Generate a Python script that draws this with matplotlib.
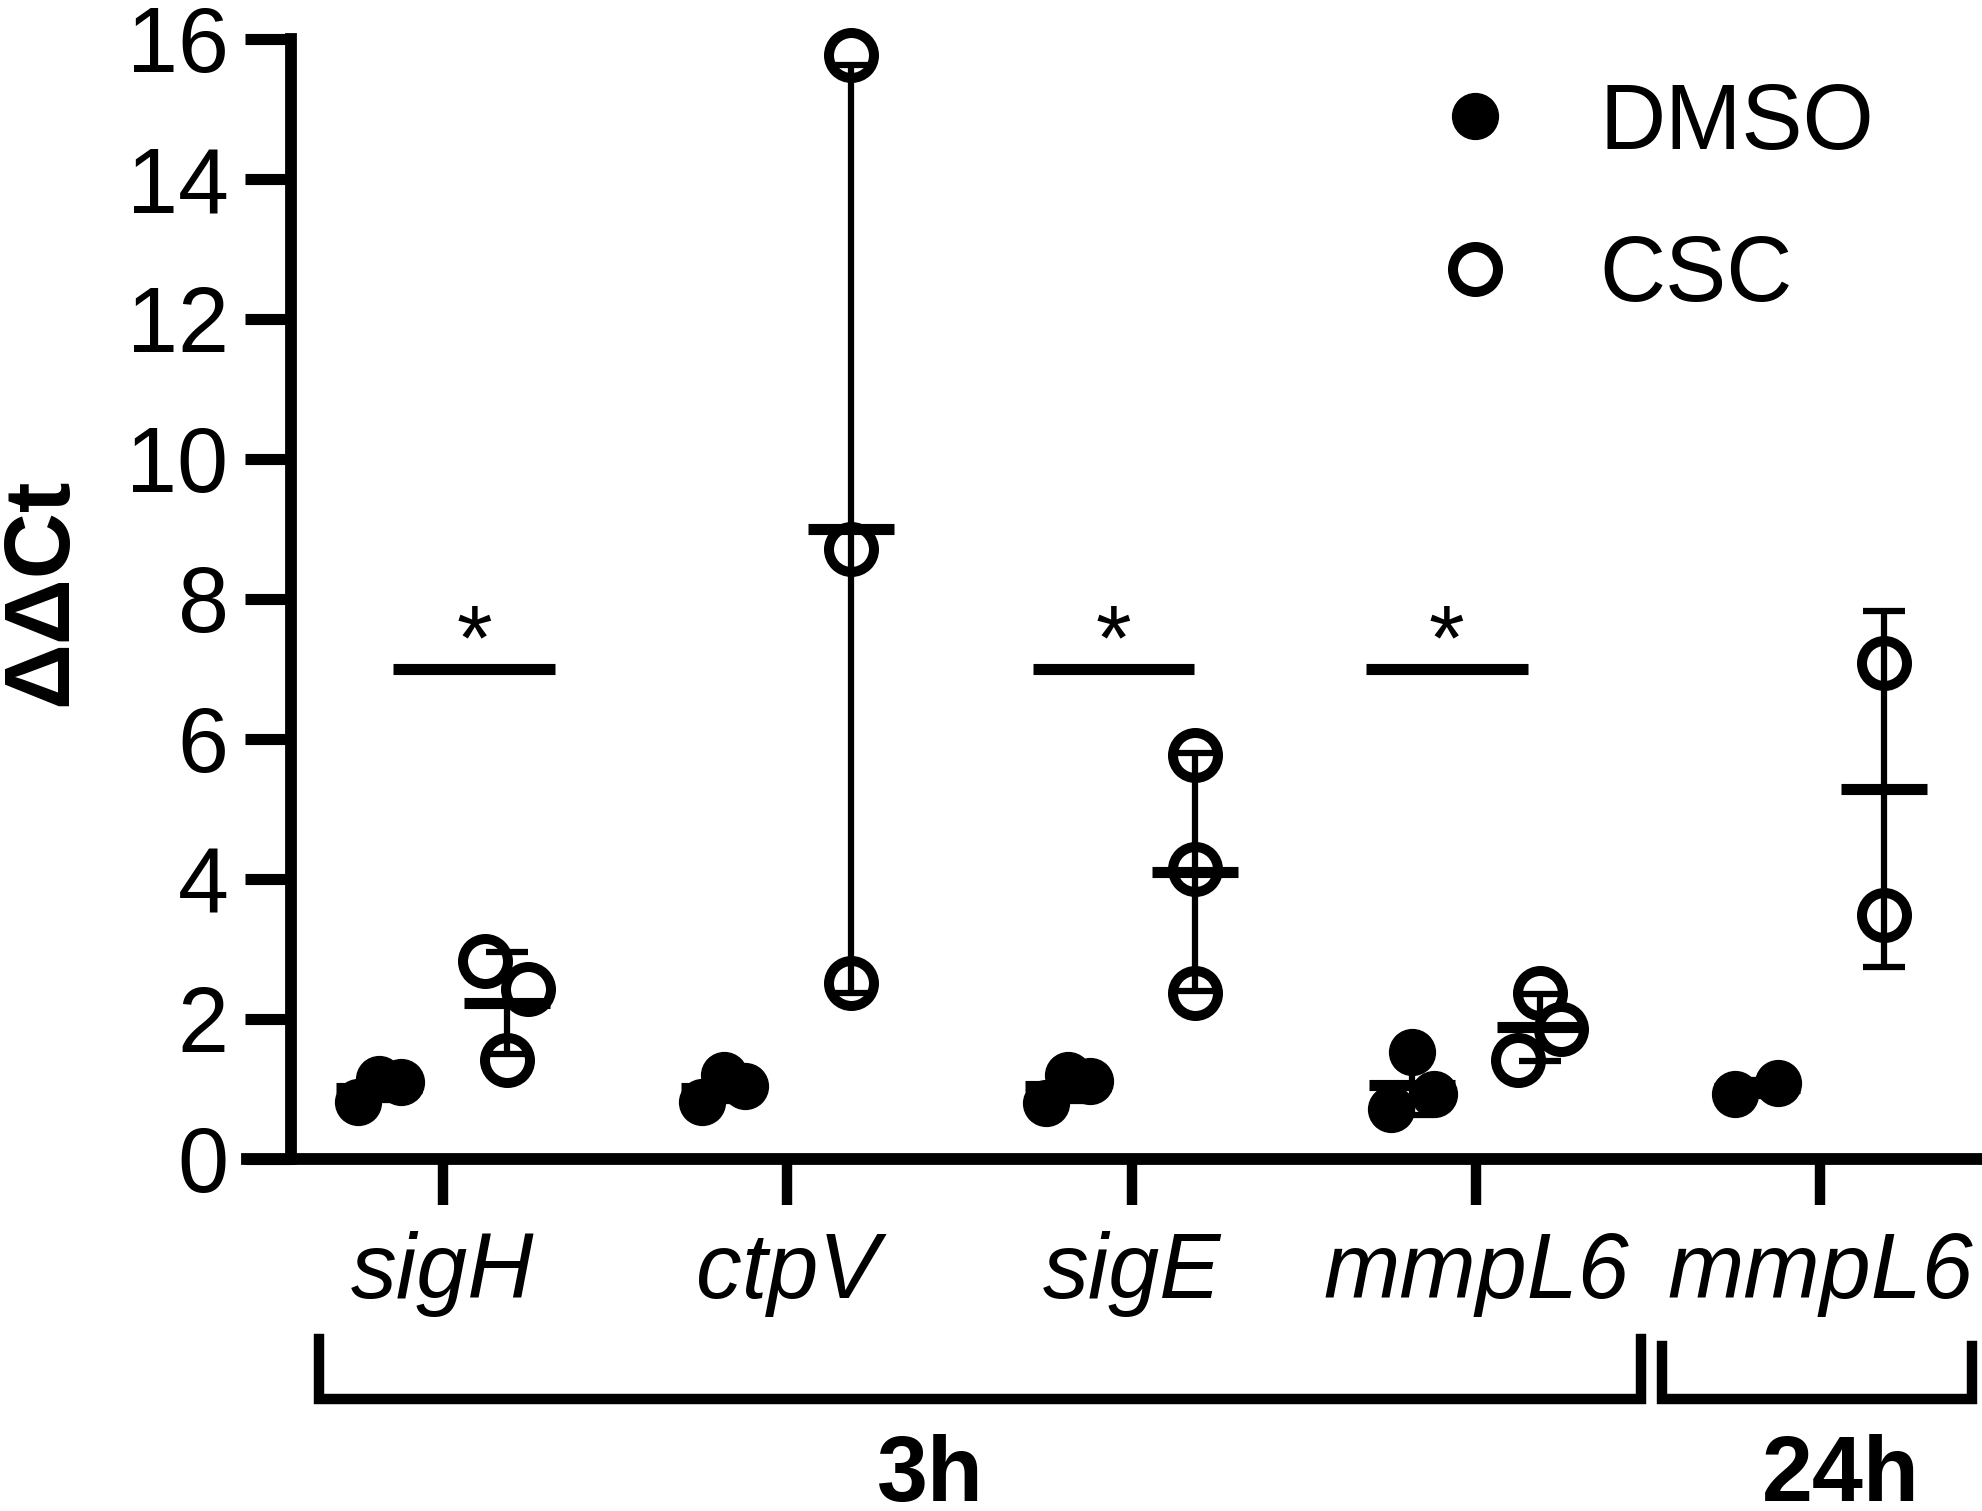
import numpy as np
import matplotlib
matplotlib.use('Agg')
import matplotlib.pyplot as plt
from matplotlib.lines import Line2D

plt.rcParams['font.family'] = ['Liberation Sans', 'DejaVu Sans']

# Datos (ddCt por replica)
genes = ['sigH', 'ctpV', 'sigE', 'mmpL6', 'mmpL6']

dmso_sigH = [0.82, 1.14, 1.10]
dmso_ctpV = [0.82, 1.20, 1.04]
dmso_sigE = [0.80, 1.20, 1.12]
dmso_mmpL6_3h = [1.53, 0.71, 0.93]
dmso_mmpL6_24h = [0.93, 1.09]

csc_sigH = [2.83, 2.43, 1.42]
csc_ctpV = [15.77, 8.72, 2.51]
csc_sigE = [5.77, 4.14, 2.37]
csc_mmpL6_3h = [2.37, 1.42, 1.85]
csc_mmpL6_24h = [7.08, 3.49]

dmso = [dmso_sigH, dmso_ctpV, dmso_sigE, dmso_mmpL6_3h, dmso_mmpL6_24h]
csc = [csc_sigH, csc_ctpV, csc_sigE, csc_mmpL6_3h, csc_mmpL6_24h]

# comparaciones significativas: (indice del gen, desplazamiento de la barra)
sig_bars = [(0, 0.09), (2, -0.053), (3, -0.085)]
sig_y = 7.0

# tiempos: etiqueta, extremos del corchete, centro del texto, altura del corchete
tiempos = [('3h', (-0.36, 3.48), 1.415, -0.1607),
           ('24h', (3.54, 4.44), 4.06, -0.167)]

FS = 66
LW = 8


def swarm(vals, center, spread=0.125, bin_h=0.5):
    # reparte horizontalmente los puntos que quedan muy juntos en vertical
    vals = np.asarray(vals, dtype=float)
    xs = np.full(len(vals), center, dtype=float)
    bins = []
    for i in np.argsort(vals):
        if bins and vals[i] - vals[bins[-1][0]] < bin_h:
            bins[-1].append(i)
        else:
            bins.append([i])
    for b in bins:
        if len(b) > 1:
            b = sorted(b)
            xs[b] = center + np.linspace(-spread / 2, spread / 2, len(b))
    return xs


fig = plt.figure(figsize=(19.83, 15.11), dpi=100)
ax = fig.add_axes([0.12456, 0.23296, 0.8739, 0.74123])

off = 0.185
for i in range(len(genes)):
    xd = swarm(dmso[i], i - off)
    ax.plot(xd, dmso[i], 'o', ms=33, mfc='black', mec='black', mew=1,
            zorder=3, clip_on=False)
    xc = swarm(csc[i], i + off)
    ax.plot(xc, csc[i], 'o', ms=32.4, mfc='white', mec='black', mew=7.2,
            zorder=3, clip_on=False)
    for vals, c in ((dmso[i], i - off), (csc[i], i + off)):
        m = np.mean(vals)
        s = np.std(vals, ddof=1)
        ax.errorbar(c, m, yerr=s, fmt='none', ecolor='black', elinewidth=4.5,
                    capsize=15, capthick=4.5, zorder=4, clip_on=False)
        ax.hlines(m, c - 0.125, c + 0.125, color='black', lw=LW, zorder=4)

# barras de significancia
for gi, dx in sig_bars:
    c = gi + dx
    ax.hlines(sig_y, c - 0.235, c + 0.235, color='black', lw=LW)
    ax.text(c, sig_y, '*', ha='center', va='baseline', fontsize=FS)

# ejes
ax.set_xlim(-0.569, 4.463)
ax.set_ylim(0, 16)
for s in ('top', 'right'):
    ax.spines[s].set_visible(False)
ax.spines['left'].set_position(('data', -0.441))
ax.spines['left'].set_linewidth(8.5)
ax.spines['bottom'].set_linewidth(8.5)

ax.set_yticks(np.arange(0, 17, 2))
ax.tick_params(axis='y', direction='out', length=33, width=LW, pad=12,
               labelsize=FS)
ax.set_xticks(range(len(genes)))
ax.set_xticklabels(genes, fontstyle='italic')
ax.tick_params(axis='x', direction='out', length=33, width=7.5, pad=19,
               labelsize=FS)

ax.set_ylabel('ΔΔCt', fontsize=FS, fontweight='bold', va='center')
ax.yaxis.set_label_coords(-0.118, 0.506)

# corchetes de tiempo
trans = ax.get_xaxis_transform()
y_bot = -0.2143
for lab, (x0, x1), xl, y_top in tiempos:
    ax.plot([x0, x0, x1, x1], [y_top, y_bot, y_bot, y_top], transform=trans,
            color='black', lw=7.5, clip_on=False, solid_joinstyle='miter')
    ax.text(xl, -0.305, lab, transform=trans, ha='center', va='baseline',
            fontsize=FS, fontweight='bold')

# leyenda
h_dmso = Line2D([], [], ls='none', marker='o', ms=33, mfc='black', mec='black')
h_csc = Line2D([], [], ls='none', marker='o', ms=32.4, mfc='white',
               mec='black', mew=7.2)
ax.legend([h_dmso, h_csc], ['DMSO', 'CSC'], loc='upper left',
          bbox_to_anchor=(0.682, 0.962), frameon=False, fontsize=FS,
          handlelength=1.0, handletextpad=0.86, labelspacing=0.73,
          borderpad=0, borderaxespad=0)

fig.savefig('out.png', dpi=100)
